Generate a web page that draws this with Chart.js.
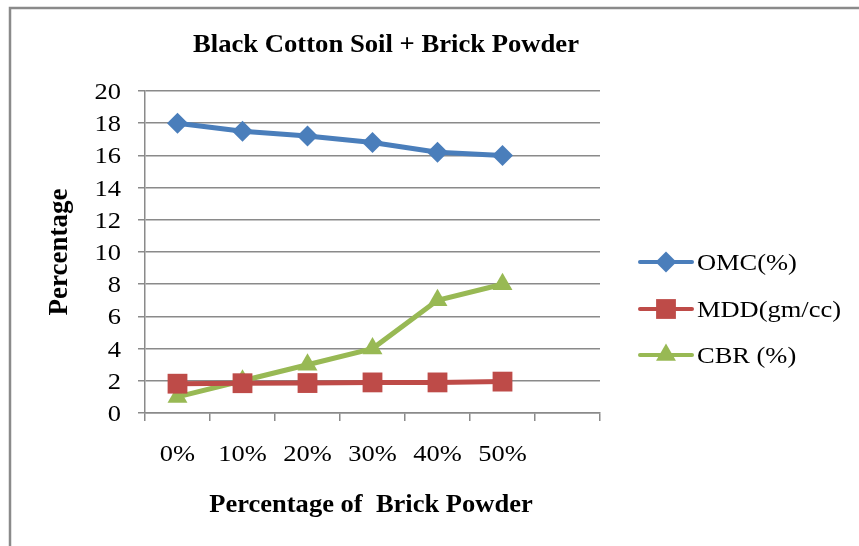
<!DOCTYPE html>
<html>
<head>
<meta charset="utf-8">
<script src="https://cdn.jsdelivr.net/npm/chart.js@4"></script>
<style>
html,body{margin:0;padding:0;background:#fff;}
#wrap{position:relative;width:859px;height:546px;}
</style>
</head>
<body>
<div id="wrap"><canvas id="c" width="859" height="546"></canvas></div>
<script>
const chartTitle = 'Black Cotton Soil + Brick Powder';
const xTitle = 'Percentage of  Brick Powder';
const yTitle = 'Percentage';
const categories = ['0%', '10%', '20%', '30%', '40%', '50%', ''];
const omc = [18, 17.5, 17.2, 16.8, 16.2, 16.0];
const mdd = [1.82, 1.85, 1.86, 1.9, 1.9, 1.95];
const cbr = [1, 2, 3, 4, 7, 8];
const seriesNames = ['OMC(%)', 'MDD(gm/cc)', 'CBR (%)'];
const yTicks = [0, 2, 4, 6, 8, 10, 12, 14, 16, 18, 20];

const colors = ['#4A7EBB', '#BE4B48', '#98B954'];
const shapes = ['rectRot', 'rect', 'triangle'];
const radii = [10.5, 14, 11.5];
const SERIF = '"Liberation Serif", "Times New Roman", serif';

function wideText(ctx, txt, x, y, align, font, stretch) {
  ctx.save();
  ctx.font = font;
  ctx.textBaseline = 'alphabetic';
  ctx.textAlign = align;
  ctx.translate(x, y);
  ctx.scale(stretch, 1);
  ctx.fillText(txt, 0, 0);
  ctx.restore();
}

const overlay = {
  id: 'overlay',
  beforeDraw(chart) {
    const ctx = chart.ctx;
    ctx.save();
    ctx.fillStyle = '#fff';
    ctx.fillRect(0, 0, chart.width, chart.height);
    ctx.strokeStyle = '#8a8a8a';
    ctx.lineWidth = 2.5;
    ctx.beginPath();
    ctx.moveTo(10, 560);
    ctx.lineTo(10, 8);
    ctx.lineTo(870, 8);
    ctx.stroke();
    ctx.restore();
  },
  afterDraw(chart) {
    const ctx = chart.ctx;
    const xs = chart.scales.x, ys = chart.scales.y;
    ctx.save();
    ctx.fillStyle = '#000';
    const reg = '23px ' + SERIF, bold = 'bold 26px ' + SERIF;
    const RS = 1.15;
    wideText(ctx, chartTitle, 386, 52, 'center', bold, 1.025);
    wideText(ctx, xTitle, 371, 512, 'center', bold, 1.02);
    yTicks.forEach(v => wideText(ctx, String(v), 121, ys.getPixelForValue(v) + 8, 'right', reg, RS));
    categories.forEach((c, i) => { if (c) wideText(ctx, c, xs.getPixelForValue(i), 461, 'center', reg, RS); });
    ctx.save();
    ctx.translate(67, 252);
    ctx.rotate(-Math.PI / 2);
    ctx.font = 'bold 27px ' + SERIF;
    ctx.textAlign = 'center';
    ctx.textBaseline = 'alphabetic';
    ctx.fillText(yTitle, 0, 0);
    ctx.restore();
    const ly = [262, 309, 355];
    chart.data.datasets.forEach((ds, i) => {
      const y = ly[i];
      ctx.strokeStyle = ds.borderColor;
      ctx.lineWidth = 4;
      ctx.lineCap = 'round';
      ctx.beginPath();
      ctx.moveTo(640, y);
      ctx.lineTo(692, y);
      ctx.stroke();
      ctx.fillStyle = ds.borderColor;
      ctx.strokeStyle = ds.borderColor;
      Chart.helpers.drawPoint(ctx, {
        pointStyle: ds.pointStyle, radius: ds.pointRadius, rotation: 0, borderWidth: 0
      }, 666, y);
      ctx.fillStyle = '#000';
      wideText(ctx, ds.label, 697, y + 8, 'left', reg, RS);
    });
    ctx.restore();
  }
};

const datasets = [omc, mdd, cbr].map((d, i) => ({
  label: seriesNames[i],
  data: d,
  borderColor: colors[i],
  backgroundColor: colors[i],
  borderWidth: 5,
  pointStyle: shapes[i],
  pointRadius: radii[i],
  pointHoverRadius: radii[i],
  pointBorderWidth: 0,
  pointBackgroundColor: colors[i],
  tension: 0,
  clip: false
}));

new Chart(document.getElementById('c'), {
  type: 'line',
  data: { labels: categories, datasets },
  options: {
    responsive: false,
    animation: false,
    events: [],
    layout: { padding: { left: 0, right: 259, top: 91, bottom: 0 } },
    plugins: { legend: { display: false }, title: { display: false }, tooltip: { enabled: false } },
    scales: {
      x: {
        offset: true,
        grid: { offset: true, display: true, drawOnChartArea: false, drawTicks: true, tickLength: 8, color: '#8a8a8a', lineWidth: 1.5 },
        border: { display: true, color: '#8a8a8a', width: 1.5 },
        ticks: { display: false, autoSkip: false },
        afterFit(s) { s.height = 133; }
      },
      y: {
        min: 0, max: 20,
        afterBuildTicks(s) { s.ticks = yTicks.map(v => ({ value: v })); },
        grid: { color: '#8a8a8a', lineWidth: 1.5, tickLength: 7, drawTicks: true },
        border: { display: true, color: '#8a8a8a', width: 1.5 },
        ticks: { display: false },
        afterFit(s) { s.width = 145; }
      }
    }
  },
  plugins: [overlay]
});
</script>
</body>
</html>
